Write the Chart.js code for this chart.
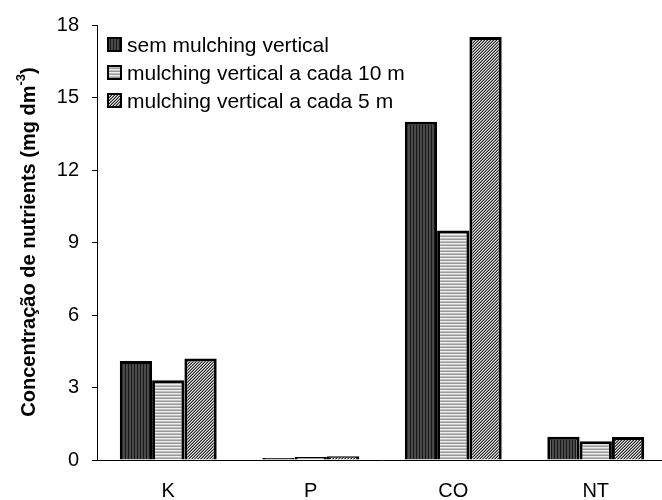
<!DOCTYPE html>
<html>
<head>
<meta charset="utf-8">
<script src="https://cdn.jsdelivr.net/npm/chart.js@4/dist/chart.umd.min.js"></script>
<style>
  html, body { margin:0; padding:0; background:#fff; overflow:hidden; }
  #wrap { width:668px; height:500px; }
</style>
</head>
<body>
<div id="wrap"><canvas id="chart" width="668" height="500"></canvas></div>
<script>
// data
const categories = ['K', 'P', 'CO', 'NT'];
const seriesNames = ['sem mulching vertical', 'mulching vertical a cada 10 m', 'mulching vertical a cada 5 m'];
const semMulching = [4.1, 0.08, 14.0, 0.96];
const cada10m = [3.3, 0.12, 9.5, 0.78];
const cada5m = [4.2, 0.16, 17.5, 0.95];
const yTicks = [0, 3, 6, 9, 12, 15, 18];

const FONT = '"Liberation Sans", Arial, sans-serif';

// fill patterns like the original b/w figure
function makePattern(w, h, draw){
    const c = document.createElement('canvas');
    c.width = w; c.height = h;
    const g = c.getContext('2d');
    draw(g);
    return g.createPattern(c, 'repeat');
}
const ctx = document.getElementById('chart').getContext('2d');
const patVert = makePattern(3, 3, g => {
    g.fillStyle = '#4a4a4a'; g.fillRect(0,0,3,3);
    g.fillStyle = '#1a1a1a'; g.fillRect(2,0,1,3);
});
const patHoriz = makePattern(3, 3, g => {
    g.fillStyle = '#eeeeee'; g.fillRect(0,0,3,1);
    g.fillStyle = '#c0c0c0'; g.fillRect(0,1,3,1);
    g.fillStyle = '#999999'; g.fillRect(0,2,3,1);
});
const patDiag = makePattern(3, 3, g => {
    g.fillStyle = '#e6e6e6'; g.fillRect(0,0,3,3);
    for (let i=0;i<3;i++){
        g.fillStyle = '#222'; g.fillRect(2-i, i, 1, 1);
        g.fillStyle = '#8a8a8a'; g.fillRect((4-i)%3, i, 1, 1);
    }
});
const patterns = [patVert, patHoriz, patDiag];

// legend drawn inside the plot, top-left
const insideLegend = {
    id: 'insideLegend',
    afterDatasetsDraw(chart){
        const c = chart.ctx;
        c.save();
        c.font = '21px ' + FONT;
        c.textBaseline = 'middle';
        chart.data.datasets.forEach((ds, i) => {
            const y = 45 + i*28;
            c.fillStyle = ds.backgroundColor;
            c.fillRect(108, y-7, 13, 13);
            c.lineWidth = 2;
            c.strokeStyle = '#000';
            c.strokeRect(108, y-7, 13, 13);
            c.fillStyle = '#000';
            c.fillText(ds.label, 127, y+1);
        });
        c.restore();
    }
};

// y title with superscript
const yTitle = {
    id: 'yTitle',
    afterDraw(chart){
        const c = chart.ctx;
        const main = 'Concentração de nutrients (mg dm';
        const sup = '-3';
        const end = ')';
        c.save();
        c.fillStyle = '#000';
        c.textBaseline = 'alphabetic';
        c.font = 'bold 20px ' + FONT;
        const w1 = c.measureText(main).width, w3 = c.measureText(end).width;
        c.font = 'bold 13px ' + FONT;
        const w2 = c.measureText(sup).width;
        const total = w1 + w2 + w3;
        c.translate(35, 242);
        c.rotate(-Math.PI/2);
        let x = -total/2;
        c.font = 'bold 20px ' + FONT;
        c.fillText(main, x, 0); x += w1;
        c.font = 'bold 13px ' + FONT;
        c.fillText(sup, x, -10); x += w2;
        c.font = 'bold 20px ' + FONT;
        c.fillText(end, x, 0);
        c.restore();
    }
};

const datasets = [semMulching, cada10m, cada5m].map((vals, i) => ({
    label: seriesNames[i],
    data: vals,
    backgroundColor: patterns[i],
    borderColor: '#000',
    borderWidth: 3,
    borderSkipped: 'bottom',
    categoryPercentage: 0.68,
    barPercentage: 1.0
}));

new Chart(ctx, {
    type: 'bar',
    data: { labels: categories, datasets },
    plugins: [insideLegend, yTitle],
    options: {
        responsive: false,
        animation: false,
        layout: { padding: { top: 24, left: 50, right: 1, bottom: 0 } },
        plugins: { legend: { display: false }, tooltip: { enabled: false } },
        scales: {
            x: {
                grid: { display: false },
                border: { display: true, color: '#000', width: 1 },
                ticks: { color: '#000', font: { family: FONT, size: 20 }, padding: 11 },
                afterFit(scale){ scale.height = 40; }
            },
            y: {
                min: 0, max: 18,
                afterBuildTicks(scale){ scale.ticks = yTicks.map(v => ({ value: v })); },
                grid: { drawOnChartArea: false, color: '#000', tickLength: 5 },
                border: { display: true, color: '#000', width: 1 },
                ticks: { color: '#000', font: { family: FONT, size: 20 }, padding: 13 },
                afterFit(scale){ scale.width = 47; }
            }
        }
    }
});
</script>
</body>
</html>
